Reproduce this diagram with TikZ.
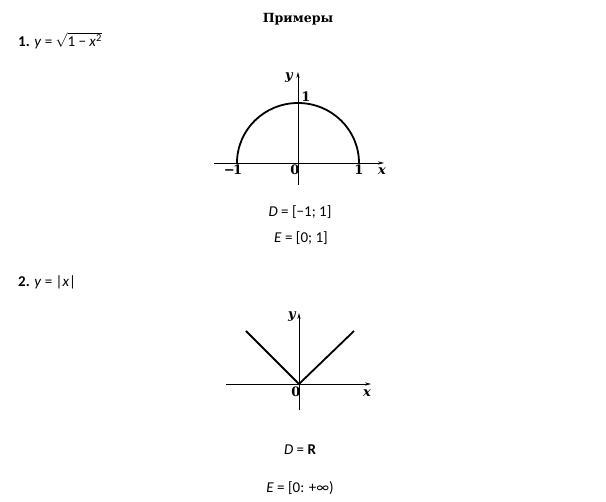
\documentclass[tikz,border=0pt]{standalone}
\usepackage{fontspec}
\setmainfont{Carlito}
\newfontfamily\labfont{DejaVu Serif}
\usetikzlibrary{arrows.meta}
\tikzset{
  axis/.style={line width=0.7pt,-{Stealth[length=6pt,width=3.2pt]}},
  curve/.style={line width=1.8pt},
  lab/.style={font=\labfont\bfseries\fontsize{13}{15}\selectfont,inner sep=0pt},
  labi/.style={font=\labfont\bfseries\itshape\fontsize{13}{15}\selectfont,inner sep=0pt},
  txt/.style={font=\fontsize{15}{18}\selectfont,inner sep=0pt},
  ttl/.style={font=\labfont\bfseries\fontsize{12.6}{15}\selectfont,inner sep=0pt}
}
\begin{document}
\begin{tikzpicture}[x=1pt,y=-1pt]
\useasboundingbox[fill=white] (0,0) rectangle (606,502);
% title
\node[ttl,anchor=base] (title) at (298,23) {Примеры};
% example 1
\node[txt,anchor=base west] (f1) at (18,47) {\textbf{1.} \textit{y} = $\sqrt{\mbox{1 − \textit{x}\textsuperscript{2}}}$};
\coordinate (x1a) at (214,163);
\coordinate (x1b) at (384,163);
\coordinate (y1a) at (298,185);
\coordinate (y1b) at (298,72);
\draw[axis] (x1a) -- (x1b);
\draw[axis] (y1a) -- (y1b);
\coordinate (c1l) at (237,163);
\draw[curve] (c1l) arc[start angle=180,end angle=360,x radius=61,y radius=60];
\node[labi] (ly1) at (289,78) {y};
\node[lab] (l11) at (306,97) {1};
\node[lab] (lm1) at (233,170) {−\kern-1.5pt1};
\node[lab] (l01) at (295,170) {0};
\node[lab] (lp1) at (359,170) {1};
\node[labi] (lx1) at (382,171) {x};
\node[txt,anchor=base] (d1) at (300,217) {\textit{D} = [−1; 1]};
\node[txt,anchor=base] (e1) at (301,243) {\textit{E} = [0; 1]};
% example 2
\node[txt,anchor=base west] (f2) at (18,287) {\textbf{2.} \textit{y} = |\textit{x}|};
\coordinate (x2a) at (226,384);
\coordinate (x2b) at (371,384);
\coordinate (y2a) at (299,410);
\coordinate (y2b) at (299,313);
\draw[axis] (x2a) -- (x2b);
\draw[axis] (y2a) -- (y2b);
\coordinate (vl) at (246,331);
\coordinate (vo) at (299,384);
\coordinate (vr) at (354,331);
\draw[curve,line join=miter] (vl) -- (vo) -- (vr);
\node[labi] (ly2) at (292,317) {y};
\node[lab] (l02) at (296,392) {0};
\node[labi] (lx2) at (367,393) {x};
\node[txt,anchor=base] (d2) at (300,455) {\textit{D} = \textbf{R}};
\node[txt,anchor=base] (e2) at (300,493) {\textit{E} = [0: +∞)};
\end{tikzpicture}
\end{document}
